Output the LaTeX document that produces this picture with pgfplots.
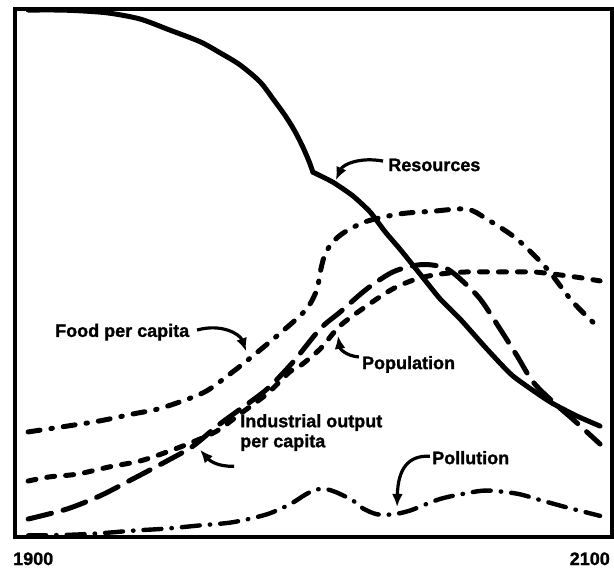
\documentclass[border=0pt]{standalone}
\usepackage{fontspec}
\setmainfont{Liberation Sans}[BoldFeatures={FakeBold=1.3}]
\usepackage{pgfplots}
\pgfplotsset{compat=1.18}
\usetikzlibrary{arrows.meta}

\tikzset{
  curve/.style={black, line width=5bp, line cap=round, line join=round, smooth, tension=0.5},
  callout/.style={black, line width=3.2bp, -{Latex[length=13bp,width=11bp]}},
  lbl/.style={anchor=base west, inner sep=0pt, font=\fontsize{18bp}{20bp}\selectfont\bfseries},
}

\begin{document}
\begin{tikzpicture}
\begin{axis}[name=ax,
  width=597bp, height=528bp, scale only axis,
  xmin=1900, xmax=2100, ymin=0, ymax=100,
  xtick=\empty, ytick=\empty,
  axis line style={line width=4bp},
]
% Resources (sharp kink around 2000)
\addplot[curve] coordinates {
 (1904.4,99.8) (1915.1,99.8) (1923.5,99.6) (1931.8,99.2) (1941.9,98.1)
 (1951.9,96.0) (1962.0,93.8) (1968.7,91.7) (1975.4,89.4) (1982.1,86.2)
 (1986.4,83.0) (1990.4,79.9) (1993.6,77.0) (1996.4,73.9) (1998.6,71.0) (1999.8,69.1)};
\addplot[curve, tension=0.35] coordinates {
 (1999.8,69.1) (2006.5,67.2) (2013.2,64.6) (2018.9,61.6) (2024.0,57.8) (2029.0,54.5)
 (2035.7,49.8) (2042.4,45.1) (2049.1,41.3) (2058.1,35.6) (2066.8,30.5)
 (2079.2,25.6) (2088.3,22.9) (2096.0,21.0)};
% Food per capita
\addplot[curve, dash pattern=on 12bp off 11bp on 1.5bp off 11bp] coordinates {
 (1904.4,19.9) (1917.4,21.0) (1928.5,22.0) (1939.5,23.3) (1947.6,24.2)
 (1956.3,25.8) (1964.3,27.7) (1973.0,31.3) (1979.7,34.3) (1987.8,38.1)
 (1995.5,41.9) (1998.8,44.1) (2001.2,47.0) (2002.5,50.8) (2003.9,53.6)
 (2006.5,55.9) (2010.6,57.8) (2017.9,59.8) (2029.0,61.2) (2040.0,61.7)
 (2051.4,62.1) (2058.1,60.2) (2068.2,56.4) (2078.2,50.8) (2086.9,44.5)
 (2096.0,39.4)};
% Population
\addplot[curve, dash pattern=on 8bp off 11bp] coordinates {
 (1904.4,10.6) (1911.7,11.4) (1920.8,11.9) (1931.8,13.3) (1941.9,14.4)
 (1950.9,16.1) (1959.6,18.0) (1967.7,20.1) (1975.4,23.3) (1984.4,27.1)
 (1992.1,31.3) (1995.5,32.4) (2002.2,35.6) (2008.9,40.0) (2017.9,43.8)
 (2026.6,47.0) (2034.7,48.9) (2042.4,49.8) (2051.4,50.2) (2062.5,50.2)
 (2073.5,50.2) (2080.2,49.8) (2088.3,49.2) (2096.0,48.5)};
% Industrial output per capita
\addplot[curve, dash pattern=on 24bp off 12bp] coordinates {
 (1904.4,3.4) (1917.4,5.3) (1928.5,7.8) (1939.5,11.0) (1950.9,14.4)
 (1959.6,17.2) (1967.7,21.0) (1975.4,24.2) (1984.4,28.0) (1993.1,33.1)
 (2002.2,39.4) (2008.9,42.6) (2017.9,47.0) (2026.6,50.2) (2034.7,51.5)
 (2040.0,51.5) (2044.7,50.8) (2049.1,48.9) (2055.8,45.1) (2062.5,39.4)
 (2068.2,34.3) (2073.5,29.4) (2080.2,25.6) (2086.9,22.3) (2096.0,17.6)};
% Pollution
\addplot[curve, line width=4.4bp, dash pattern=on 18bp off 10bp on 0.5bp off 10bp] coordinates {
 (1904.4,0.3) (1917.4,0.4) (1928.5,0.7) (1939.5,1.2) (1950.9,1.6)
 (1962.0,2.2) (1973.0,2.8) (1984.4,4.3) (1992.1,6.2) (1997.2,8.0)
 (2000.5,8.9) (2003.9,9.1) (2007.9,8.4) (2013.2,6.9) (2016.6,5.4)
 (2021.3,4.3) (2026.6,4.3) (2032.3,5.0) (2042.4,7.2) (2051.4,8.3)
 (2058.1,8.8) (2068.2,8.2) (2075.9,7.0) (2084.9,5.6) (2096.0,4.0)};

% labels and callout arrows
\node[lbl] at (axis cs:2025.0,69.3) {Resources};
\draw[callout] (axis cs:2023.3,71.2) .. controls (axis cs:2015.6,72.0) and (axis cs:2009.9,70.6) .. (axis cs:2007.5,67.6);
\node[lbl] at (axis cs:1913.4,37.9) {Food per capita};
\draw[callout] (axis cs:1961.0,39.2) .. controls (axis cs:1969.3,40.5) and (axis cs:1975.4,38.4) .. (axis cs:1977.4,35.2);
\node[lbl] at (axis cs:2016.2,31.8) {Population};
\draw[callout] (axis cs:2015.2,34.1) .. controls (axis cs:2010.9,34.3) and (axis cs:2008.9,35.6) .. (axis cs:2008.2,38.1);
\node[lbl, align=left, anchor=base west] at (axis cs:1975.4,17.0) {Industrial output\\per capita};
\draw[callout] (axis cs:1973.4,13.4) .. controls (axis cs:1968.0,13.3) and (axis cs:1965.3,14.4) .. (axis cs:1962.0,16.5);
\node[lbl] at (axis cs:2039.7,13.8) {Pollution};
\draw[callout] (axis cs:2039.0,15.3) .. controls (axis cs:2031.7,15.5) and (axis cs:2028.3,12.9) .. (axis cs:2028.0,5.7);
\end{axis}
\node[lbl, anchor=base west] at ([shift={(-2bp,-28bp)}]ax.south west) {1900};
\node[lbl, anchor=base east] at ([shift={(-2bp,-28bp)}]ax.south east) {2100};
\path[use as bounding box] ([shift={(-15bp,-33bp)}]ax.south west) rectangle ([shift={(2bp,9bp)}]ax.north east);
\end{tikzpicture}
\end{document}
